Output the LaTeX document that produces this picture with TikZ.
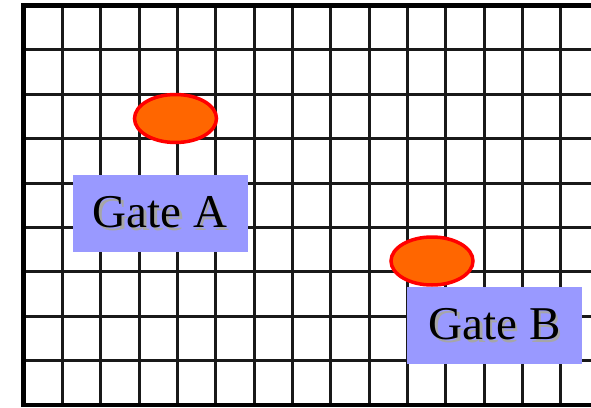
\documentclass[tikz,border=0pt]{standalone}
\usepackage{fontspec}
\setmainfont{Liberation Serif}
\usepackage{xcolor}
\usetikzlibrary{shapes.geometric,positioning}
\definecolor{gatefill}{HTML}{9999FF}
\definecolor{spotfill}{HTML}{FF6600}
\definecolor{spotline}{HTML}{FF0000}
\newcommand{\shtext}[1]{\makebox[0pt][l]{\hspace*{2.5pt}\raisebox{-2.5pt}{\textcolor{black!35}{#1}}}#1}

\begin{document}
\begin{tikzpicture}[
    x=1pt, y=-1pt,
    gline/.style ={line width=3pt, draw=black!90},
    frame/.style ={line width=5pt, draw=black},
    spot/.style  ={ellipse, fill=spotfill, draw=spotline, line width=3.5pt,
                   minimum width=82pt, minimum height=48pt, inner sep=0pt},
    gate/.style  ={rectangle, fill=gatefill, inner sep=0pt,
                   minimum width=175pt, minimum height=77pt,
                   font=\fontsize{47}{50}\selectfont},
  ]
  \useasboundingbox[fill=white] (0,0) rectangle (591,407);
  % grid of cells
  \foreach \i in {1,...,14}
    \draw[gline] (24+38.35*\i,5) -- (24+38.35*\i,405);
  \foreach \j in {1,...,8}
    \draw[gline] (24,5.5+44.4*\j) -- (591,5.5+44.4*\j);
  \draw[line width=3.5pt, draw=black] (24,405) -- (591,405);
  \draw[frame] (21,5.5) -- (591,5.5);
  \draw[frame] (23.5,3) -- (23.5,407);
  % spots
  \node[spot] (spotA) at (175.5,118.5) {};
  \node[spot] (spotB) at (432,261) {};
  % gate labels
  \node[gate] (gateA) at (160,213.5) {\shtext{Gate A}};
  \node[gate] (gateB) at (494.5,325.5) {\shtext{Gate B}};
\end{tikzpicture}
\end{document}
